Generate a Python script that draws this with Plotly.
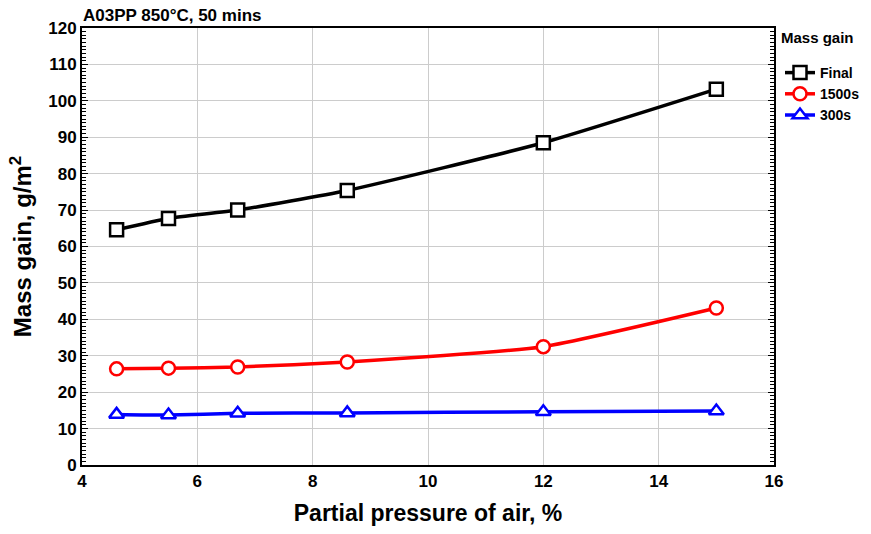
import plotly.graph_objects as go

x_vals = [4.6, 5.5, 6.7, 8.6, 12.0, 15.0]
final_vals = [64.6, 67.7, 70.0, 75.4, 88.5, 103.2]
s1500_vals = [26.4, 26.6, 26.9, 28.3, 32.5, 43.1]
s300_vals = [13.9, 13.7, 14.2, 14.3, 14.6, 14.8]

x_ticks = [4, 6, 8, 10, 12, 14, 16]
y_ticks = [0, 10, 20, 30, 40, 50, 60, 70, 80, 90, 100, 110, 120]

series = [
    ("Final", final_vals, "black", "square"),
    ("1500s", s1500_vals, "red", "circle"),
    ("300s", s300_vals, "blue", "triangle-up"),
]

fig = go.Figure()
for name, vals, color, sym in series:
    fig.add_trace(go.Scatter(
        x=x_vals, y=vals, name="<b>" + name + "</b>", mode="lines+markers",
        line=dict(color=color, width=3.5, shape="spline", smoothing=0.5),
        marker=dict(symbol=sym, size=13, color="white",
                    line=dict(color=color, width=2.5)),
    ))

font_family = "Liberation Sans, Arial, sans-serif"
L, R, T, B = 82, 97, 28, 69
W, H = 871, 534
pw = W - L - R
ph = H - T - B

fig.update_layout(
    width=W, height=H,
    margin=dict(l=L, r=R, t=T, b=B, autoexpand=False),
    paper_bgcolor="white", plot_bgcolor="white",
    font=dict(family=font_family, color="black", size=14),
    title=dict(text="<b>A03PP 850°C, 50 mins</b>", x=83/W, xanchor="left",
               y=1 - 15/H, yanchor="middle", font=dict(size=17)),
    xaxis=dict(
        range=[4, 16],
        tickvals=x_ticks, ticktext=["<b>%d</b>" % v for v in x_ticks],
        showgrid=True, gridcolor="#cccccc", gridwidth=1,
        showline=True, linecolor="black", linewidth=2, mirror=True,
        ticks="", tickfont=dict(size=17, family=font_family, weight="bold"),
        title=dict(text="<b>Partial pressure of air, %</b>", font=dict(size=23), standoff=14),
        zeroline=False,
    ),
    yaxis=dict(
        range=[0, 120],
        tickvals=y_ticks, ticktext=["<b>%d</b>" % v for v in y_ticks],
        showgrid=True, gridcolor="#cccccc", gridwidth=1,
        showline=True, linecolor="black", linewidth=2, mirror="allticks",
        ticks="inside", ticklen=6, tickwidth=1, tickcolor="black",
        minor=dict(dtick=1, tick0=0, ticks="inside", ticklen=4, tickwidth=1, tickcolor="black", showgrid=False),
        tickfont=dict(size=17, family=font_family, weight="bold"),
        title=dict(text="<b>Mass gain, g/m<sup>2</sup></b>", font=dict(size=24), standoff=10),
        zeroline=False,
    ),
    legend=dict(
        x=(780 - L) / pw, xanchor="left", y=1 - (57 - T) / ph, yanchor="top",
        font=dict(size=14, family=font_family),
        bgcolor="rgba(0,0,0,0)", borderwidth=0,
        tracegroupgap=0, itemwidth=30,
    ),
    annotations=[dict(
        text="<b>Mass gain</b>", xref="paper", yref="paper",
        x=(779 - L) / pw, xanchor="left", y=1 - (37 - T) / ph, yanchor="middle",
        showarrow=False, font=dict(size=15),
    )],
)

fig.write_html("out.html")
